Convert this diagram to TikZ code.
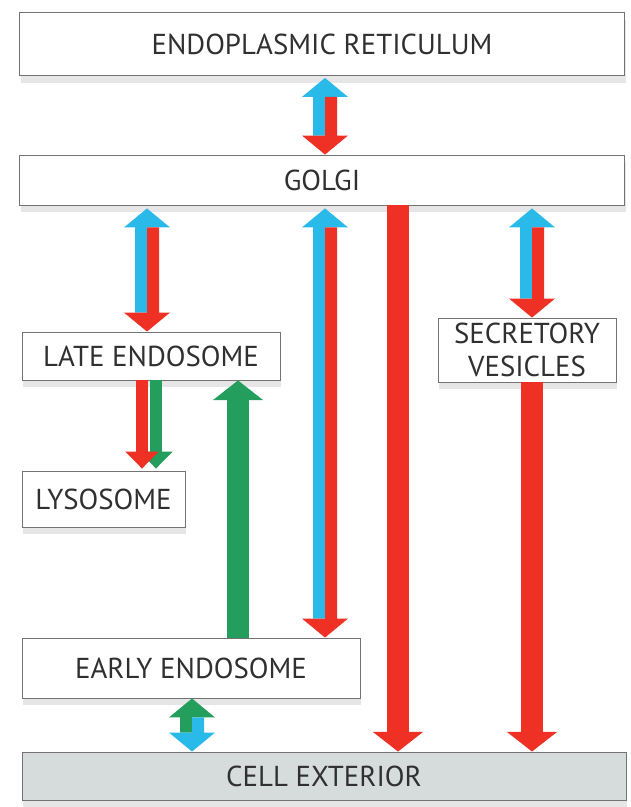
\documentclass[tikz,border=0pt]{standalone}
\usepackage{fontspec}
\setmainfont{PT Sans}
\usetikzlibrary{shapes,backgrounds,shadows,calc}
\usetikzlibrary{arrows.meta}

\definecolor{trcyan}{RGB}{42,186,234}
\definecolor{trred}{RGB}{238,49,36}
\definecolor{trgreen}{RGB}{36,158,92}
\definecolor{extgray}{RGB}{214,219,219}
\definecolor{labelgray}{RGB}{48,48,48}

\tikzset{
  compart/.style={draw=black!55, fill=white, line width=0.6pt, text=labelgray,
    font=\fontsize{20.5}{23}\selectfont, align=center, inner sep=0pt,
    drop shadow={opacity=0.2, shadow xshift=1pt, shadow yshift=-5pt}},
  oneway/.style={line width=16pt, -{Triangle[width=35pt,length=14pt]}},
  thinway/.style={line width=8.5pt, -{Triangle[width=23pt,length=12pt]}}
}

% two-coloured arrow: top, bottom, colour going up, colour going down
\newcommand{\twoway}[4]{%
  \fill[#3] (#1) -- ++(-23,-19) -- ++(11,0) -- ($(#2)+(-12,19)$) -- ++(12,0)
    -- ($(#1)+(0,-19)$) -- ++(23,0) -- cycle;
  \fill[#4] (#2) -- ++(23,19) -- ++(-11,0) -- ($(#1)+(12,-19)$) -- ++(-12,0)
    -- ($(#2)+(0,19)$) -- ++(-23,0) -- cycle;
}

\begin{document}
\begin{tikzpicture}[x=0.025cm,y=0.025cm]
\useasboundingbox (0,0) rectangle (630,-807);

\node[compart, minimum width=15.125cm, minimum height=1.575cm] (er) at (322,-44) {ENDOPLASMIC RETICULUM};
\node[compart, minimum width=15.125cm, minimum height=1.25cm] (golgi) at (322,-180) {GOLGI};
\node[compart, minimum width=6.45cm, minimum height=1.2cm] (late) at (151,-356) {LATE ENDOSOME};
\node[compart, minimum width=4.45cm, minimum height=1.6cm] (secr) at (527,-350) {SECRETORY\\VESICLES};
\node[compart, minimum width=4.075cm, minimum height=1.4cm] (lyso) at (103.5,-499) {LYSOSOME};
\node[compart, minimum width=8.45cm, minimum height=1.5cm] (early) at (191,-668) {EARLY ENDOSOME};
\node[compart, fill=extgray, minimum width=15.1cm, minimum height=1.2cm] (cell) at (324,-776) {CELL EXTERIOR};

\coordinate (xmid) at (325,0);
\coordinate (xlate) at (147,0);
\coordinate (xexo) at (398,0);
\coordinate (xsec) at (532,0);
\coordinate (xback) at (238,0);
\coordinate (xlyso) at (148,0);
\coordinate (xearly) at (192,0);

\twoway{$(er.south -| xmid)+(0,-2)$}{golgi.north -| xmid}{trcyan}{trred}
\twoway{$(golgi.south -| xlate)+(0,-3)$}{late.north -| xlate}{trcyan}{trred}
\twoway{$(golgi.south -| xmid)+(0,-3)$}{early.north -| xmid}{trcyan}{trred}
\twoway{$(golgi.south -| xsec)+(0,-3)$}{secr.north -| xsec}{trcyan}{trred}
\twoway{early.south -| xearly}{cell.north -| xearly}{trgreen}{trcyan}

\draw[oneway, trred] (golgi.south -| xexo) -- (cell.north -| xexo);
\draw[oneway, trred] (secr.south -| xsec) -- (cell.north -| xsec);
\draw[oneway, trgreen] (early.north -| xback) -- (late.south -| xback);
\draw[thinway, trgreen] ($(late.south -| xlyso)+(8,0)$) -- ($(lyso.north -| xlyso)+(8,2)$);
\draw[thinway, trred] ($(late.south -| xlyso)+(-6,0)$) -- ($(lyso.north -| xlyso)+(-6,2)$);
\end{tikzpicture}
\end{document}
